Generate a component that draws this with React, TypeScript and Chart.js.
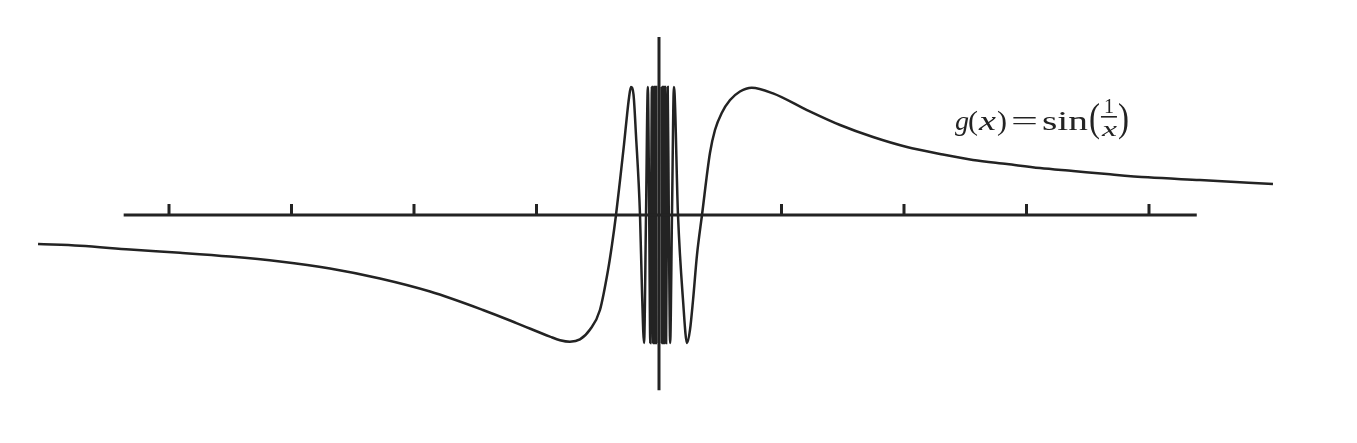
import React, { useEffect, useRef } from "react";
import { Chart, registerables } from "chart.js";

Chart.register(...registerables);

// Curve g(x) = sin(1/x) (x in tick units, y in amplitude units)
const LEFT_X = [
  -5.069, -4.727, -4.318, -3.91, -3.502, -3.094, -2.686, -2.278, -1.869, -1.437,
  -1.159, -0.89, -0.808, -0.727, -0.645, -0.563, -0.482, -0.416, -0.384, -0.351, -0.318,
  -0.286, -0.261, -0.245, -0.229, -0.208, -0.188, -0.155, -0.139, -0.122, -0.106,
  -0.091, -0.08, -0.071, -0.064, -0.058, -0.053, -0.049, -0.046, -0.042, -0.04,
  -0.037, -0.035, -0.033, -0.032, -0.03, -0.029, -0.028, -0.026, -0.025, -0.024,
  -0.023, -0.022, -0.021,
];
const LEFT_Y = [
  -0.227, -0.24, -0.27, -0.295, -0.324, -0.363, -0.418, -0.496, -0.598, -0.742,
  -0.846, -0.95, -0.978, -0.99, -0.972, -0.895, -0.742, -0.43, -0.234, 0, 0.273,
  0.547, 0.781, 0.914, 1.0, 0.94, 0.625, 0, -0.586, -1, 0,
  1, 0, -1, 0, 1, 0, -1, 0, 1, 0,
  -1, 0, 1, 0, -1, 0, 1, 0, -1, 0,
  1, 0, -1,
];
const RIGHT_X = [
  0.021, 0.022, 0.023, 0.024, 0.025, 0.026, 0.028, 0.029, 0.03, 0.032,
  0.033, 0.035, 0.037, 0.04, 0.042, 0.046, 0.049, 0.053, 0.058, 0.064,
  0.071, 0.08, 0.091, 0.106, 0.122, 0.155, 0.196, 0.229, 0.253, 0.278,
  0.31, 0.351, 0.416, 0.457, 0.512, 0.58, 0.661, 0.757, 0.931, 1.208,
  1.478, 1.747, 2.024, 2.294, 2.563, 2.841, 3.11, 3.38, 3.657, 3.992,
  4.416, 5.012,
];
const RIGHT_Y = [
  1, 0, -1, 0, 1, 0, -1, 0, 1, 0,
  -1, 0, 1, 0, -1, 0, 1, 0, -1, 0,
  1, 0, -1, 0, 1, 0, -0.664, -1.0, -0.898, -0.664,
  -0.313, 0, 0.484, 0.664, 0.797, 0.898, 0.965, 0.995, 0.95, 0.82,
  0.703, 0.609, 0.531, 0.477, 0.43, 0.398, 0.367, 0.344, 0.320, 0.294,
  0.273, 0.242,
];

// Axes
const TICK_VALUES = [-4, -3, -2, -1, 1, 2, 3, 4];
const X_AXIS_EXTENT = [-4.37, 4.39];
const Y_AXIS_EXTENT = [-1.37, 1.39];

// View window (data units)
const VIEW_X = [-5.3796, 5.698];
const VIEW_Y = [-1.78125, 1.6797];

const TICK_LEN = 0.086;
const INK = "#232323";
const SERIF = '"Liberation Serif", "DejaVu Serif", serif';
const LABEL_AT = { x: 2.416, y: 0.664 };

const formulaPlugin = {
  id: "formulaLabel",
  afterDatasetsDraw(chart: any) {
    const { ctx, scales } = chart;
    const x0 = scales.x.getPixelForValue(LABEL_AT.x);
    const b = scales.y.getPixelForValue(LABEL_AT.y);
    ctx.save();
    ctx.fillStyle = INK;
    ctx.textAlign = "left";
    ctx.textBaseline = "alphabetic";
    const put = (t: string, dx: number, dy: number, w: number, font: string) => {
      ctx.font = font;
      const m = ctx.measureText(t).width || 1;
      ctx.save();
      ctx.translate(x0 + dx, b + dy);
      ctx.scale(w / m, 1);
      ctx.fillText(t, 0, 0);
      ctx.restore();
    };
    put("g", 0, 0, 14, `italic 28px ${SERIF}`);
    put("(", 13, 0, 10, `28px ${SERIF}`);
    put("x", 24, 0, 17, `italic 28px ${SERIF}`);
    put(")", 42, 0, 10, `28px ${SERIF}`);
    put("=", 56, 0, 27, `28px ${SERIF}`);
    put("sin", 87, 0, 46, `28px ${SERIF}`);
    put("(", 134, 1, 11, `40px ${SERIF}`);
    put("1", 149, -17, 10, `22px ${SERIF}`);
    ctx.fillRect(x0 + 146, b - 14, 16, 1.6);
    put("x", 147, 6, 15, `italic 22px ${SERIF}`);
    put(")", 163, 1, 11, `40px ${SERIF}`);
    ctx.restore();
  },
};

export default function App() {
  const ref = useRef<HTMLCanvasElement>(null);

  useEffect(() => {
    const left = LEFT_X.map((x, i) => ({ x, y: LEFT_Y[i] }));
    const right = RIGHT_X.map((x, i) => ({ x, y: RIGHT_Y[i] }));
    const ticks: { x: number; y: number | null }[] = [];
    TICK_VALUES.forEach((t) => {
      ticks.push({ x: t, y: 0 }, { x: t, y: TICK_LEN }, { x: t, y: null });
    });

    const chart = new Chart(ref.current!, {
      type: "line",
      data: {
        datasets: [
          {
            data: X_AXIS_EXTENT.map((x) => ({ x, y: 0 })),
            borderColor: INK,
            borderWidth: 3,
            pointRadius: 0,
          },
          {
            data: Y_AXIS_EXTENT.map((y) => ({ x: 0, y })),
            borderColor: INK,
            borderWidth: 3,
            pointRadius: 0,
          },
          {
            data: ticks as any,
            borderColor: INK,
            borderWidth: 3,
            pointRadius: 0,
            spanGaps: false,
          },
          {
            data: left,
            borderColor: INK,
            borderWidth: 2.5,
            pointRadius: 0,
            cubicInterpolationMode: "monotone",
          },
          {
            data: right,
            borderColor: INK,
            borderWidth: 2.5,
            pointRadius: 0,
            cubicInterpolationMode: "monotone",
          },
        ],
      },
      options: {
        animation: false,
        responsive: true,
        maintainAspectRatio: false,
        events: [],
        layout: { padding: 0 },
        plugins: { legend: { display: false }, tooltip: { enabled: false } },
        scales: {
          x: { type: "linear", min: VIEW_X[0], max: VIEW_X[1], display: false },
          y: { type: "linear", min: VIEW_Y[0], max: VIEW_Y[1], display: false },
        },
      },
      plugins: [formulaPlugin],
    });
    return () => chart.destroy();
  }, []);

  return (
    <div
      style={{
        position: "fixed",
        left: 0,
        top: 0,
        width: 1357,
        height: 443,
        background: "#fff",
      }}
    >
      <canvas ref={ref} />
    </div>
  );
}
